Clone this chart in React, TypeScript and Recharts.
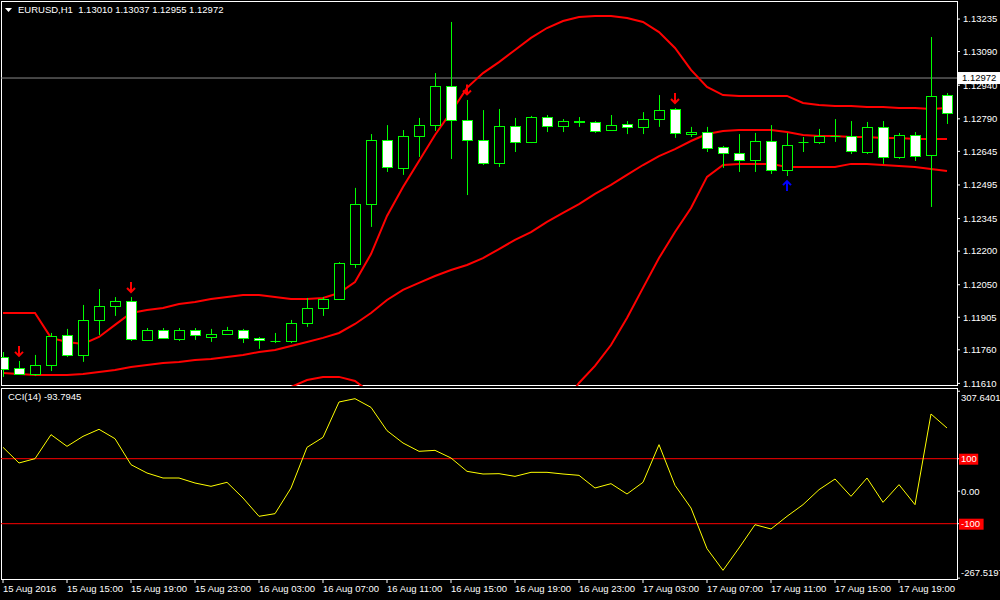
import { ComposedChart, Bar, Line, Scatter, XAxis, YAxis, ReferenceLine } from 'recharts'

const FONT = '"Liberation Sans", Arial, sans-serif'

// hourly bars, 15 Aug 11:00 .. 17 Aug 22:00
const TIME_TICKS = [0, 4, 8, 12, 16, 20, 24, 28, 32, 36, 40, 44, 48, 52, 56]
const TIME_LABELS = [
  '15 Aug 2016', '15 Aug 15:00', '15 Aug 19:00', '15 Aug 23:00', '16 Aug 03:00',
  '16 Aug 07:00', '16 Aug 11:00', '16 Aug 15:00', '16 Aug 19:00', '16 Aug 23:00',
  '17 Aug 03:00', '17 Aug 07:00', '17 Aug 11:00', '17 Aug 15:00', '17 Aug 19:00',
]

const PRICE_TICKS = [
  1.1161, 1.1176, 1.11905, 1.1205, 1.122, 1.12345, 1.12495, 1.12645, 1.1279, 1.1294, 1.1309, 1.13235,
]

const OPEN = [
  1.11728, 1.11679, 1.11652, 1.11692, 1.11826, 1.11737, 1.11893, 1.11955, 1.11978, 1.11804,
  1.11848, 1.11808, 1.11848, 1.11817, 1.1183, 1.11848, 1.11813, 1.11799, 1.11799, 1.11879,
  1.11946, 1.11986, 1.12143, 1.1241, 1.12696, 1.12571, 1.12713, 1.12762, 1.12936, 1.12785,
  1.12696, 1.12593, 1.12758, 1.12687, 1.12798, 1.12758, 1.12776, 1.12776, 1.1274, 1.12767,
  1.12754, 1.12789, 1.12834, 1.12722, 1.12731, 1.12664, 1.12638, 1.12606, 1.12691, 1.12562,
  1.12687, 1.12687, 1.12713, 1.12713, 1.12642, 1.12754, 1.1262, 1.12718, 1.12629, 1.12896,
]
const HIGH = [
  1.1175, 1.1171, 1.11737, 1.11835, 1.11853, 1.1196, 1.12031, 1.11995, 1.11995, 1.11857,
  1.11857, 1.11857, 1.11857, 1.11853, 1.11862, 1.11853, 1.11817, 1.11835, 1.11893, 1.11991,
  1.11995, 1.12151, 1.12482, 1.12722, 1.12762, 1.1274, 1.12794, 1.12994, 1.13222, 1.12874,
  1.12829, 1.12834, 1.12794, 1.12803, 1.12807, 1.12789, 1.12798, 1.1278, 1.12807, 1.1278,
  1.1282, 1.12896, 1.12838, 1.12754, 1.12754, 1.12669, 1.12722, 1.12727, 1.12762, 1.12727,
  1.12709, 1.12745, 1.12789, 1.1278, 1.12776, 1.1278, 1.12727, 1.12731, 1.13155, 1.12905,
]
const LOW = [
  1.11639, 1.11648, 1.11643, 1.11665, 1.11728, 1.11706, 1.11826, 1.11911, 1.11799, 1.11799,
  1.11808, 1.11799, 1.11804, 1.11795, 1.11826, 1.1179, 1.11764, 1.1179, 1.1179, 1.11862,
  1.11911, 1.11982, 1.12125, 1.12308, 1.12553, 1.1254, 1.1262, 1.12736, 1.12611, 1.1245,
  1.12584, 1.12575, 1.12642, 1.12682, 1.12731, 1.12731, 1.12754, 1.12727, 1.12736, 1.12722,
  1.12722, 1.12754, 1.12705, 1.12709, 1.12642, 1.12571, 1.12553, 1.12553, 1.12544, 1.12535,
  1.12642, 1.12678, 1.12687, 1.12633, 1.12633, 1.12589, 1.12611, 1.12602, 1.12397, 1.12767,
]
const CLOSE = [
  1.11674, 1.11652, 1.11692, 1.11821, 1.11737, 1.11893, 1.11955, 1.11978, 1.11808, 1.11848,
  1.11813, 1.11848, 1.11826, 1.1183, 1.11848, 1.11813, 1.11804, 1.11799, 1.11879, 1.11946,
  1.11986, 1.12147, 1.1241, 1.12696, 1.12575, 1.12713, 1.12762, 1.12936, 1.12785, 1.12696,
  1.12593, 1.12758, 1.12687, 1.12798, 1.12758, 1.1278, 1.1278, 1.12736, 1.12762, 1.12754,
  1.12789, 1.12829, 1.12727, 1.12731, 1.1266, 1.12638, 1.12606, 1.12691, 1.12562, 1.12673,
  1.12687, 1.12713, 1.12713, 1.12647, 1.12754, 1.1262, 1.12718, 1.12624, 1.12892, 1.12816,
]

// Bollinger bands (20)
const BB_UPPER = [
  1.11924, 1.11924, 1.11924, 1.11813, 1.11795, 1.11786, 1.11817, 1.11871, 1.11924, 1.11937,
  1.11946, 1.11964, 1.11973, 1.11986, 1.11995, 1.12004, 1.12004, 1.11995, 1.11986, 1.11986,
  1.11991, 1.12013, 1.12062, 1.12187, 1.12357, 1.12486, 1.12602, 1.12718, 1.1282, 1.12928,
  1.12994, 1.13043, 1.13097, 1.13151, 1.13195, 1.13226, 1.13244, 1.13249, 1.13249, 1.1324,
  1.13222, 1.13177, 1.13106, 1.13008, 1.12932, 1.12896, 1.12892, 1.12892, 1.12892, 1.12892,
  1.12861, 1.12852, 1.12847, 1.12847, 1.12843, 1.12843, 1.12838, 1.12838, 1.12834, 1.12838,
]
const BB_MIDDLE = [
  1.11656, 1.11652, 1.11648, 1.11648, 1.11648, 1.11652, 1.11661, 1.1167, 1.11683, 1.11692,
  1.11701, 1.11705, 1.11714, 1.11719, 1.11728, 1.11737, 1.1175, 1.11759, 1.11777, 1.11795,
  1.11813, 1.11835, 1.11875, 1.11924, 1.11982, 1.12027, 1.12058, 1.12089, 1.12116, 1.12138,
  1.12169, 1.12209, 1.1225, 1.12285, 1.1233, 1.1237, 1.1241, 1.12455, 1.12495, 1.1254,
  1.12584, 1.12624, 1.12655, 1.12691, 1.12722, 1.12736, 1.1274, 1.1274, 1.1274, 1.12731,
  1.12718, 1.12713, 1.12713, 1.12709, 1.12709, 1.12705, 1.12705, 1.127, 1.127, 1.127,
]
const BB_LOWER = [
  1.11389, 1.1138, 1.11371, 1.11482, 1.115, 1.11518, 1.11505, 1.11469, 1.11442, 1.11447,
  1.11456, 1.11447, 1.11456, 1.11451, 1.1146, 1.11469, 1.11496, 1.11536, 1.11594, 1.11625,
  1.11639, 1.11639, 1.11621, 1.11567, 1.11491, 1.11425, 1.11358, 1.11313, 1.11286, 1.11268,
  1.11259, 1.11268, 1.11291, 1.11335, 1.11402, 1.11514, 1.11612, 1.11688, 1.11781, 1.11902,
  1.12036, 1.12169, 1.12285, 1.12392, 1.12531, 1.12584, 1.12589, 1.12589, 1.12589, 1.12575,
  1.12575, 1.12575, 1.12575, 1.12589, 1.12589, 1.12584, 1.1258, 1.12575, 1.12566, 1.12557,
]

const CCI_14 = [
  135, 86.8, 100.1, 174, 138, 168.8, 190.4, 161.6, 81.6, 56,
  40.6, 40.6, 25.2, 15, 27.3, -20.9, -77.3, -69.1, 9.8, 135,
  165.7, 274.5, 284.7, 258, 186.3, 148.3, 122.7, 125.7, 102.2, 61.1,
  52.9, 53.9, 45.7, 58.1, 58.1, 52.9, 48.8, 9.8, 23.2, -8.6,
  27.3, 143.2, 18.1, -51.7, -176.8, -243.5, -174.8, -103, -116.3, -77.3,
  -41.4, 4.7, 37.5, -15.8, 40.6, -34.3, 20.1, -41.4, 237.5, 194.5,
]
const CCI_TICKS = [307.6401, 100, 0, -100, -267.5197]
const CCI_LEVELS = [100, -100]

const SELL_SIGNALS = [
  { i: 1, price: 1.11755 },
  { i: 8, price: 1.1204 },
  { i: 29, price: 1.12921 },
  { i: 42, price: 1.12883 },
]
const BUY_SIGNALS = [{ i: 49, price: 1.1249 }]

const BID = 1.12972
const HEADER = 'EURUSD,H1  1.13010 1.13037 1.12955 1.12972'
const CCI_TITLE = 'CCI(14) -93.7945'

const X_DOMAIN = [-0.125, 59.625]
const PRICE_DOMAIN = [1.115984, 1.133155]
const CCI_DOMAIN = [-270.15, 314.46]

function Candle(props: any) {
  const { x, y, width, height, payload } = props
  const { open, high, low, close } = payload
  const top = Math.min(y, y + height)
  const h = Math.abs(height)
  const cx = Math.round(x + width / 2) + 0.5
  const toY = (v: number) => top + ((high - v) / (high - low)) * h
  const bTop = Math.round(toY(Math.max(open, close))) + 0.5
  const bBot = Math.round(toY(Math.min(open, close))) + 0.5
  const bull = close >= open
  return (
    <g>
      <line x1={cx} x2={cx} y1={top} y2={top + h} stroke="#00ff00" />
      {bBot - bTop < 1 ? (
        <line x1={cx - 5} x2={cx + 5} y1={bTop} y2={bTop} stroke="#00ff00" />
      ) : (
        <rect x={cx - 5} y={bTop} width={10} height={bBot - bTop} fill={bull ? '#000' : '#fff'} stroke="#00ff00" />
      )}
    </g>
  )
}

function SellArrow({ cx, cy }: any) {
  return (
    <path
      d={`M${cx},${cy - 5} L${cx},${cy + 5} M${cx - 4},${cy + 1} L${cx},${cy + 5} L${cx + 4},${cy + 1}`}
      stroke="#ff0000"
      strokeWidth={2}
      fill="none"
    />
  )
}

function BuyArrow({ cx, cy }: any) {
  return (
    <path
      d={`M${cx},${cy + 5} L${cx},${cy - 5} M${cx - 4},${cy - 1} L${cx},${cy - 5} L${cx + 4},${cy - 1}`}
      stroke="#0000ff"
      strokeWidth={2}
      fill="none"
    />
  )
}

function BidLabel({ viewBox }: any) {
  const x = viewBox.x + viewBox.width + 1
  const y = viewBox.y
  return (
    <g>
      <rect x={x} y={y - 6} width={44} height={12} fill="#fff" />
      <text x={x + 4} y={y} dy="0.35em" fill="#000" fontSize={9.5} fontFamily={FONT}>
        {BID.toFixed(5)}
      </text>
    </g>
  )
}

function CciTick({ x, y, payload }: any) {
  const v = payload.value
  const boxed = CCI_LEVELS.includes(v)
  const text = boxed ? String(v) : v === 0 ? '0.00' : v.toFixed(4)
  const dy = v > 300 ? 6 : v < -200 ? -5 : 0
  return (
    <g>
      {boxed && <rect x={x - 2} y={y - 5} width={text.length * 5.4 + 3} height={11} fill="#ff0000" />}
      <text x={x} y={y + dy} dy="0.35em" fill="#fff" fontSize={9.5} fontFamily={FONT}>
        {text}
      </text>
    </g>
  )
}

function TimeTick({ x, y, payload }: any) {
  const label = TIME_LABELS[TIME_TICKS.indexOf(payload.value)]
  return (
    <text x={x} y={y} dy={7} fill="#fff" fontSize={9.5} fontFamily={FONT}>
      {label}
    </text>
  )
}

const frame = { position: 'absolute' as const, left: 1, width: 957, border: '1px solid #fff', boxSizing: 'border-box' as const }

export default function App() {
  const rows = OPEN.map((o, i) => ({
    i,
    open: o,
    high: HIGH[i],
    low: LOW[i],
    close: CLOSE[i],
    range: [LOW[i], HIGH[i]],
    upper: BB_UPPER[i],
    middle: BB_MIDDLE[i],
    lower: BB_LOWER[i],
  }))
  const cciRows = CCI_14.map((v, i) => ({ i, cci: v }))

  return (
    <div style={{ position: 'absolute', left: 0, top: 0, width: 1000, height: 600, background: '#000', overflow: 'hidden', fontFamily: FONT }}>
      <div style={{ ...frame, top: 1, height: 385 }} />
      <div style={{ ...frame, top: 388, height: 192 }} />

      <div style={{ position: 'absolute', left: 0, top: 386 }}>
        <ComposedChart width={1000} height={214} data={cciRows} margin={{ top: 3, right: 0, bottom: 0, left: 1 }}>
          <XAxis
            dataKey="i"
            type="number"
            domain={X_DOMAIN}
            allowDataOverflow
            ticks={TIME_TICKS}
            interval={0}
            height={21}
            tick={TimeTick}
            tickLine={{ stroke: '#fff' }}
            tickSize={4}
            tickMargin={2}
            axisLine={false}
          />
          <YAxis
            orientation="right"
            width={43}
            domain={CCI_DOMAIN}
            allowDataOverflow
            ticks={CCI_TICKS}
            interval={0}
            tick={CciTick}
            tickLine={{ stroke: '#fff' }}
            tickSize={3}
            tickMargin={1}
            axisLine={false}
          />
          {CCI_LEVELS.map((lv) => (
            <ReferenceLine key={lv} y={lv} stroke="#ff0000" />
          ))}
          <Line dataKey="cci" type="linear" stroke="#ffff00" strokeWidth={1} dot={false} isAnimationActive={false} />
        </ComposedChart>
      </div>

      <div style={{ position: 'absolute', left: 0, top: 0 }}>
        <ComposedChart width={1000} height={392} data={rows} margin={{ top: 1, right: 0, bottom: 6, left: 1 }}>
          <XAxis dataKey="i" type="number" domain={X_DOMAIN} allowDataOverflow hide />
          <YAxis
            orientation="right"
            width={43}
            domain={PRICE_DOMAIN}
            allowDataOverflow
            ticks={PRICE_TICKS}
            interval={0}
            tickFormatter={(v: number) => v.toFixed(5)}
            tick={{ fill: '#fff', fontSize: 9.5, fontFamily: FONT }}
            tickLine={{ stroke: '#fff' }}
            tickSize={3}
            tickMargin={3}
            axisLine={false}
          />
          <ReferenceLine y={BID} stroke="#8a8a8a" label={BidLabel} />
          <Line dataKey="upper" type="linear" stroke="#ff0000" strokeWidth={2} dot={false} isAnimationActive={false} />
          <Line dataKey="middle" type="linear" stroke="#ff0000" strokeWidth={2} dot={false} isAnimationActive={false} />
          <Line dataKey="lower" type="linear" stroke="#ff0000" strokeWidth={2} dot={false} isAnimationActive={false} />
          <Bar dataKey="range" barSize={11} shape={Candle} isAnimationActive={false} zIndex={450} />
          <Scatter data={SELL_SIGNALS} dataKey="price" shape={SellArrow} isAnimationActive={false} />
          <Scatter data={BUY_SIGNALS} dataKey="price" shape={BuyArrow} isAnimationActive={false} />
        </ComposedChart>
      </div>

      <svg style={{ position: 'absolute', left: 5, top: 8 }} width={8} height={6}>
        <polygon points="0,0 7,0 3.5,4" fill="#fff" />
      </svg>
      <div style={{ position: 'absolute', left: 18, top: 4, color: '#fff', fontSize: 9.5, whiteSpace: 'pre', lineHeight: '12px' }}>
        {HEADER}
      </div>
      <div style={{ position: 'absolute', left: 8, top: 391, color: '#fff', fontSize: 9.5, whiteSpace: 'pre', lineHeight: '12px' }}>
        {CCI_TITLE}
      </div>
    </div>
  )
}
